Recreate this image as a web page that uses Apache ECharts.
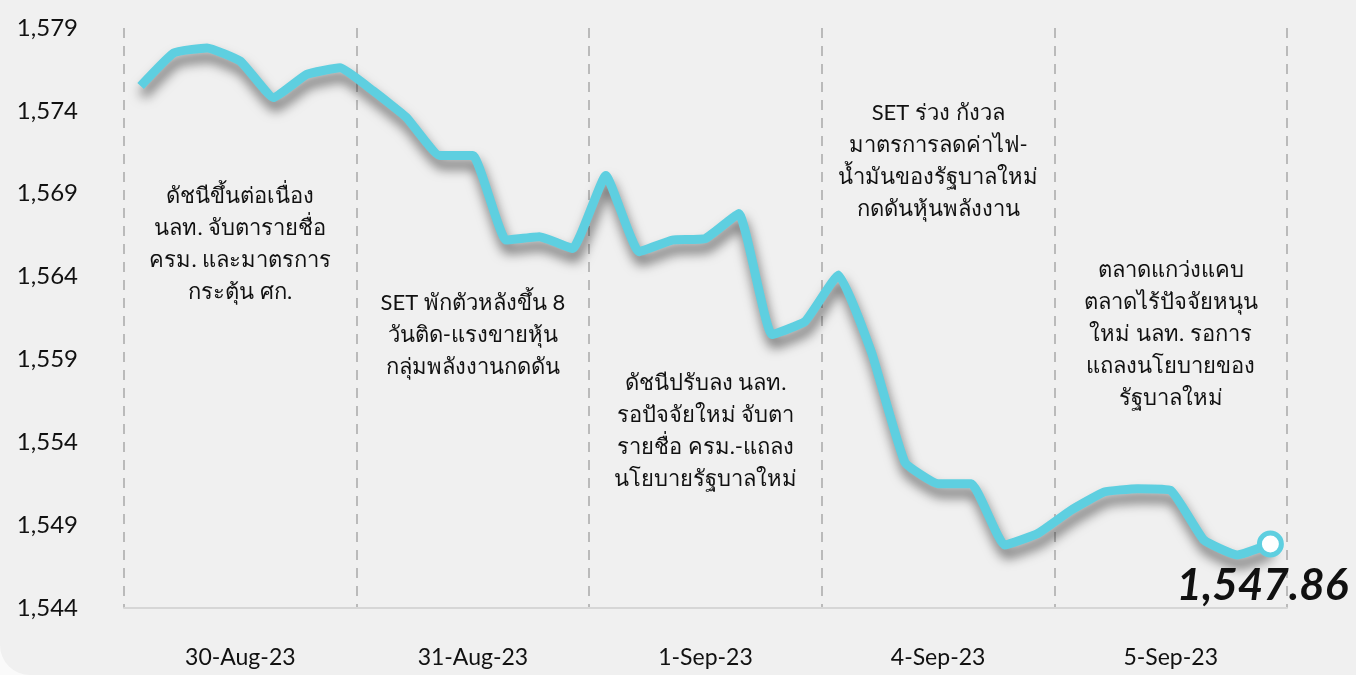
<!DOCTYPE html>
<html>
<head>
<meta charset="utf-8">
<script src="https://cdn.jsdelivr.net/npm/echarts@6/dist/echarts.min.js"></script>
<style>
  html, body { margin: 0; padding: 0; background: #fafafa; }
  #chart { width: 1356px; height: 675px; background: #f0f0f0; border-bottom-left-radius: 30px; }
</style>
</head>
<body>
<div id="chart"></div>
<script>
// วันที่ (5 วันทำการ, 7 จุดต่อวัน)
const days = ['30-Aug-23', '31-Aug-23', '1-Sep-23', '4-Sep-23', '5-Sep-23'];
const pointsPerDay = 7;

// ค่า SET index อ่านจากภาพ
const setIndex = [
  1575.5, 1577.5, 1577.8, 1577.0, 1574.8, 1576.2, 1576.6,
  1575.2, 1573.6, 1571.3, 1571.3, 1566.2, 1566.4, 1565.7,
  1570.1, 1565.5, 1566.2, 1566.3, 1567.8, 1560.5, 1561.3,
  1564.1, 1559.4, 1552.8, 1551.5, 1551.5, 1547.8, 1548.5,
  1549.9, 1551.0, 1551.2, 1551.1, 1548.1, 1547.2, 1547.86
];
const lastLabel = '1,547.86';

// ข้อความอธิบายแต่ละวัน
const notes = [
  'ดัชนีขึ้นต่อเนื่อง\nนลท. จับตารายชื่อ\nครม. และมาตรการ\nกระตุ้น ศก.',
  'SET พักตัวหลังขึ้น 8\nวันติด-แรงขายหุ้น\nกลุ่มพลังงานกดดัน',
  'ดัชนีปรับลง นลท.\nรอปัจจัยใหม่ จับตา\nรายชื่อ ครม.-แถลง\nนโยบายรัฐบาลใหม่',
  'SET ร่วง กังวล\nมาตรการลดค่าไฟ-\nน้ำมันของรัฐบาลใหม่\nกดดันหุ้นพลังงาน',
  'ตลาดแกว่งแคบ\nตลาดไร้ปัจจัยหนุน\nใหม่ นลท. รอการ\nแถลงนโยบายของ\nรัฐบาลใหม่'
];
const noteTop = [180, 287, 367, 97, 254];

const lineColor = '#5ecfe0';
const fontFamily = "Lato, 'Noto Sans', sans-serif";

const slots = setIndex.map((v, i) => days[Math.floor(i / pointsPerDay)] + '#' + (i % pointsPerDay));

const seriesData = setIndex.map((v, i) => {
  if (i !== setIndex.length - 1) return v;
  return {
    value: v,
    symbol: 'circle',
    symbolSize: 22,
    itemStyle: { color: '#ffffff', borderColor: lineColor, borderWidth: 5, shadowBlur: 0 },
    label: {
      show: true,
      position: 'bottom',
      distance: 6,
      offset: [-8, 0],
      formatter: lastLabel,
      fontSize: 44,
      fontStyle: 'italic',
      fontWeight: 'bold',
      color: '#111',
      fontFamily: fontFamily
    }
  };
});

const chart = echarts.init(document.getElementById('chart'));

const grid = { left: 124, right: 69, top: 28, bottom: 67 };
const plotW = 1356 - grid.left - grid.right;
const dayW = plotW / days.length;

const option = {
  animation: false,
  grid: grid,
  xAxis: [
    {
      type: 'category',
      data: slots,
      boundaryGap: true,
      show: false
    },
    {
      type: 'category',
      data: days,
      position: 'bottom',
      boundaryGap: true,
      axisLine: { show: true, lineStyle: { color: '#d6d6d6', width: 2 } },
      axisTick: { show: false },
      axisLabel: { color: '#111', fontSize: 23, margin: 38, fontFamily: fontFamily },
      splitLine: {
        show: true,
        lineStyle: { color: '#a8a8a8', type: [10, 8], width: 1.5 }
      }
    }
  ],
  yAxis: {
    type: 'value',
    min: 1544,
    max: 1579,
    interval: 5,
    axisLine: { show: false },
    axisTick: { show: false },
    splitLine: { show: false },
    axisLabel: {
      color: '#111',
      fontSize: 24,
      margin: 46,
      fontFamily: fontFamily,
      formatter: v => v.toLocaleString('en-US')
    }
  },
  series: [
    {
      type: 'line',
      xAxisIndex: 0,
      data: seriesData,
      symbol: 'none',
      smooth: 0.12,
      z: 5,
      lineStyle: {
        color: lineColor,
        width: 9,
        shadowColor: 'rgba(0,0,0,0.55)',
        shadowBlur: 12,
        shadowOffsetX: 2,
        shadowOffsetY: 9
      }
    }
  ],
  graphic: notes.map((t, i) => ({
    type: 'text',
    x: grid.left + dayW * (i + 0.5),
    y: noteTop[i],
    z: 10,
    style: {
      text: t,
      fill: '#111',
      fontSize: 22,
      lineHeight: 32,
      fontFamily: fontFamily,
      textAlign: 'center',
      textVerticalAlign: 'top'
    }
  }))
};

chart.setOption(option);
window.addEventListener('resize', () => chart.resize());
</script>
</body>
</html>
